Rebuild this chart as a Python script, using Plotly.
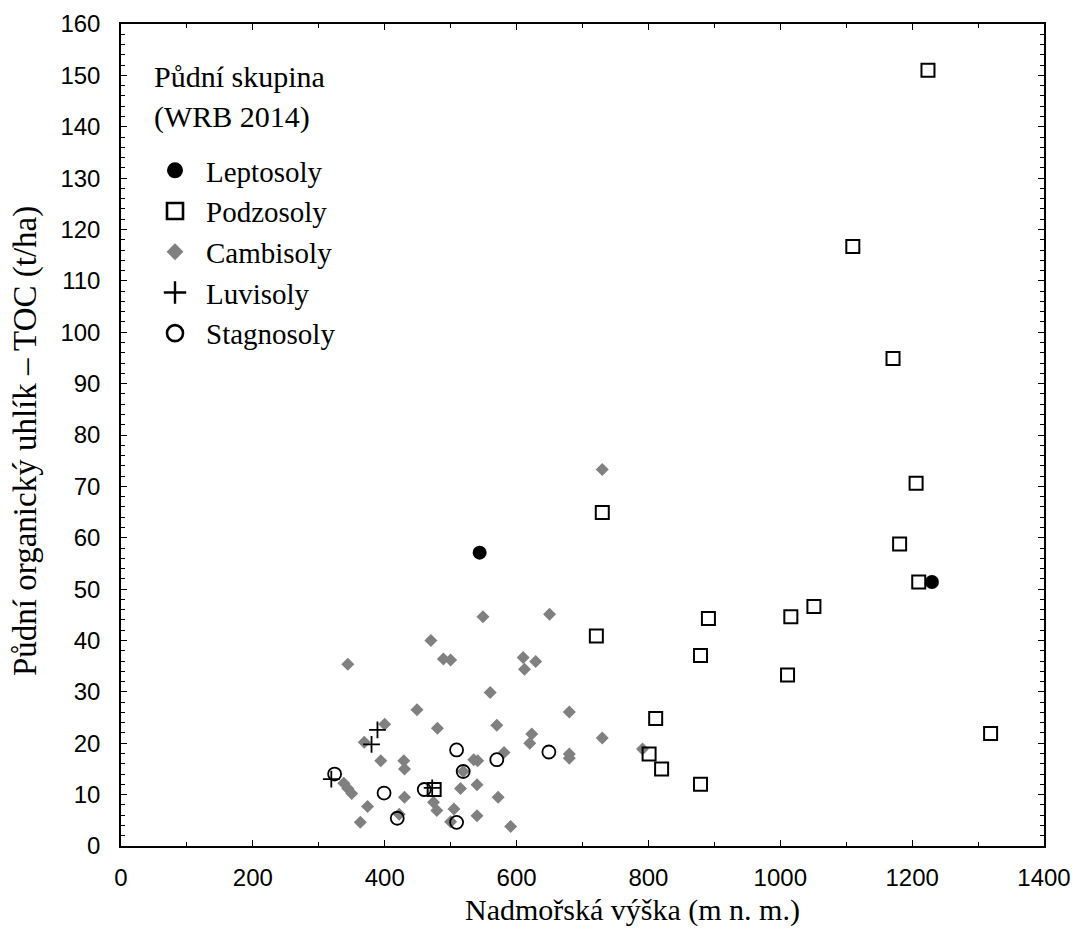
import plotly.graph_objects as go

# Data (x = altitude m a.s.l., y = TOC t/ha)
lepto_x = [544, 1230]
lepto_y = [57.1, 51.4]

podzo_x = [1224, 1110, 1171, 1206, 1181, 1210, 730, 721, 891, 1016, 1051, 879, 1011, 1319, 879, 811, 801, 820, 475]
podzo_y = [151, 116.7, 94.9, 70.6, 58.8, 51.4, 64.9, 40.9, 44.3, 44.6, 46.6, 37.1, 33.3, 21.9, 12.0, 24.8, 17.9, 15.0, 11.0]

cambi_x = [344, 470, 489, 500, 560, 449, 400, 480, 570, 369, 394, 429, 430, 581, 535, 541,
           338, 344, 350, 374, 363, 430, 422, 474, 479, 515, 540, 505, 500, 540, 572, 591,
           610, 612, 629, 680, 623, 620, 730, 680, 680, 791, 730, 549, 650, 519]
cambi_y = [35.4, 40.0, 36.4, 36.2, 29.9, 26.5, 23.7, 22.9, 23.5, 20.2, 16.6, 16.6, 15.0, 18.2, 16.8, 16.6,
           12.2, 11.2, 10.2, 7.7, 4.6, 9.5, 6.2, 8.5, 6.9, 11.2, 11.9, 7.2, 4.7, 5.9, 9.5, 3.8,
           36.7, 34.4, 35.9, 26.1, 21.8, 20.0, 21.0, 17.9, 17.1, 18.9, 73.3, 44.6, 45.1, 14.5]

luvi_x = [319, 380, 389, 472]
luvi_y = [13.0, 19.8, 22.6, 11.3]

stagno_x = [324, 399, 460, 509, 519, 570, 419, 509, 649]
stagno_y = [14.0, 10.3, 11.0, 18.7, 14.5, 16.8, 5.4, 4.6, 18.3]

names = ["Leptosoly", "Podzosoly", "Cambisoly", "Luvisoly", "Stagnosoly"]
x_ticks = [0, 200, 400, 600, 800, 1000, 1200, 1400]
y_ticks = list(range(0, 161, 10))

SERIF = "Liberation Serif, Times New Roman, serif"
SANS = "Liberation Sans, Arial, sans-serif"

styles = {
    "Leptosoly": dict(symbol="circle", color="black", line=dict(width=0)),
    "Podzosoly": dict(symbol="square-open", color="black", line=dict(width=2)),
    "Cambisoly": dict(symbol="diamond", color="#808080", line=dict(width=0)),
    "Luvisoly": dict(symbol="cross-thin", color="black", line=dict(width=1.8, color="black")),
    "Stagnosoly": dict(symbol="circle-open", color="black", line=dict(width=1.8)),
}
sizes = {"Leptosoly": 14, "Podzosoly": 13, "Cambisoly": 10, "Luvisoly": 12, "Stagnosoly": 13}
data = {
    "Cambisoly": (cambi_x, cambi_y),
    "Leptosoly": (lepto_x, lepto_y),
    "Podzosoly": (podzo_x, podzo_y),
    "Luvisoly": (luvi_x, luvi_y),
    "Stagnosoly": (stagno_x, stagno_y),
}

fig = go.Figure()
for nm, (xs, ys) in data.items():
    fig.add_trace(go.Scatter(x=xs, y=ys, mode="markers", name=nm, showlegend=False,
                             marker=dict(size=sizes[nm], **styles[nm])))
# legend entries (no data, larger symbols like in the reference legend)
legend_sizes = {"Leptosoly": 16, "Podzosoly": 16, "Cambisoly": 13, "Luvisoly": 16, "Stagnosoly": 16}
for i, nm in enumerate(names):
    st = dict(styles[nm])
    if nm in ("Podzosoly", "Stagnosoly"):
        st["line"] = dict(width=2.6)
    if nm == "Luvisoly":
        st["line"] = dict(width=2.4, color="black")
    fig.add_trace(go.Scatter(x=[None], y=[None], mode="markers", name=nm, legendrank=i + 1,
                             marker=dict(size=legend_sizes[nm], **st)))

axis_common = dict(
    showline=True, linecolor="black", linewidth=1.5, mirror="ticks",
    ticks="inside", ticklen=6, tickwidth=1.2, tickcolor="black",
    showgrid=False, zeroline=False, automargin=False,
    tickfont=dict(family=SANS, size=24, color="black"),
)

fig.update_xaxes(range=[0, 1400], tickvals=x_ticks, ticklabelstandoff=9,
                 minor=dict(dtick=100, tick0=0, ticks="inside", ticklen=4, tickcolor="black", showgrid=False),
                 **axis_common)
fig.update_yaxes(range=[0, 160], tickvals=y_ticks, ticklabelstandoff=14,
                 minor=dict(dtick=2, tick0=0, ticks="inside", ticklen=4, tickcolor="black", showgrid=False),
                 **axis_common)

# axis titles
fig.add_annotation(text="Nadmořská výška (m n. m.)", xref="paper", yref="paper",
                   x=(632 - 121) / 923, y=(846 - 910) / 822, xanchor="center", yanchor="middle",
                   showarrow=False, font=dict(family=SERIF, size=30, color="black"))
fig.add_annotation(text="Půdní organický uhlík – TOC (t/ha)", xref="paper", yref="paper",
                   x=(25 - 121) / 923, y=(846 - 441) / 822, xanchor="center", yanchor="middle",
                   textangle=-90, showarrow=False, font=dict(family=SERIF, size=33, color="black"))

# legend title
fig.add_annotation(text="Půdní skupina", xref="paper", yref="paper", x=(152 - 121) / 923, y=(846 - 77) / 822,
                   xanchor="left", yanchor="middle", showarrow=False, font=dict(family=SERIF, size=30, color="black"))
fig.add_annotation(text="(WRB 2014)", xref="paper", yref="paper", x=(152 - 121) / 923, y=(846 - 117) / 822,
                   xanchor="left", yanchor="middle", showarrow=False, font=dict(family=SERIF, size=30, color="black"))

fig.update_layout(
    width=1071, height=930,
    margin=dict(l=113, r=35, t=16, b=92),
    paper_bgcolor="white", plot_bgcolor="white",
    showlegend=True,
    legend=dict(x=(144 - 121) / 923, y=(846 - 145) / 822, xanchor="left", yanchor="top",
                bgcolor="rgba(0,0,0,0)", font=dict(family=SERIF, size=29, color="black"),
                itemsizing="trace", itemwidth=52, tracegroupgap=0),
)

fig.write_html("out.html")
